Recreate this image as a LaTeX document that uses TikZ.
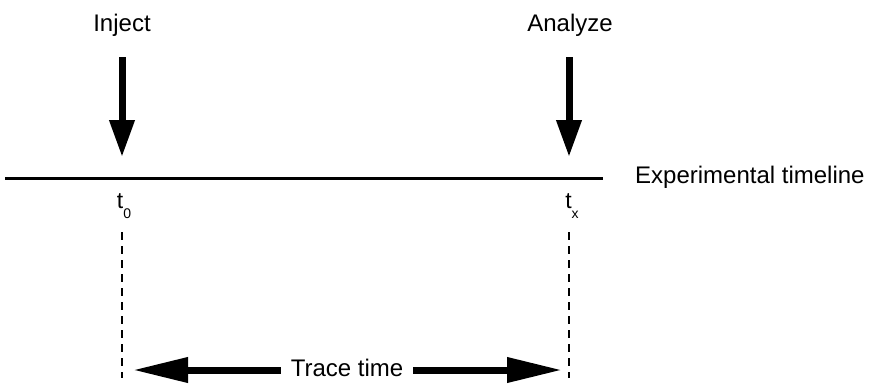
\documentclass[tikz,border=0pt]{standalone}
\usepackage{fontspec}
\setmainfont{Liberation Sans}
\usetikzlibrary{arrows.meta}

\begin{document}
\begin{tikzpicture}[x=1pt,y=-1pt,
  lbl/.style = {font=\fontsize{24}{28}\selectfont, inner sep=0pt},
  tlbl/.style = {font=\fontsize{23}{26}\selectfont, inner sep=0pt, anchor=base},
  down/.style = {line width=7pt, -{Triangle[length=37pt,width=24pt]}},
  span/.style = {line width=7pt, -{Triangle[length=55pt,width=24pt]}},
  guide/.style = {line width=1.3pt, dash pattern=on 8pt off 6pt}]
\useasboundingbox (0,0) rectangle (873,383);
\node[lbl] (inject) at (122,25) {Inject};
\node[lbl] (analyze) at (570,25) {Analyze};
\coordinate (a1) at (122,57);
\coordinate (b1) at (122,157);
\coordinate (a2) at (569,57);
\coordinate (b2) at (569,157);
\draw[down] (a1) -- (b1);
\draw[down] (a2) -- (b2);
\coordinate (l0) at (5,178);
\coordinate (l1) at (603,178);
\draw[line width=3pt] (l0) -- (l1);
\node[lbl, anchor=west] (timeline) at (635,177) {Experimental timeline};
\node[tlbl] (t0) at (124,208) {t\raisebox{-10pt}{\fontsize{14}{14}\selectfont 0}};
\node[tlbl] (tx) at (572,208) {t\raisebox{-10pt}{\fontsize{14}{14}\selectfont x}};
\coordinate (d0) at (122,232);
\coordinate (e0) at (122,378);
\coordinate (d1) at (569,232);
\coordinate (e1) at (569,378);
\draw[guide] (d0) -- (e0);
\draw[guide] (d1) -- (e1);
\node[lbl, inner xsep=10pt] (trace) at (347,368) {Trace time};
\coordinate (s0) at (133,370);
\coordinate (s1) at (562,370);
\draw[span] (trace.west |- s0) -- (s0);
\draw[span] (trace.east |- s1) -- (s1);
\end{tikzpicture}
\end{document}
